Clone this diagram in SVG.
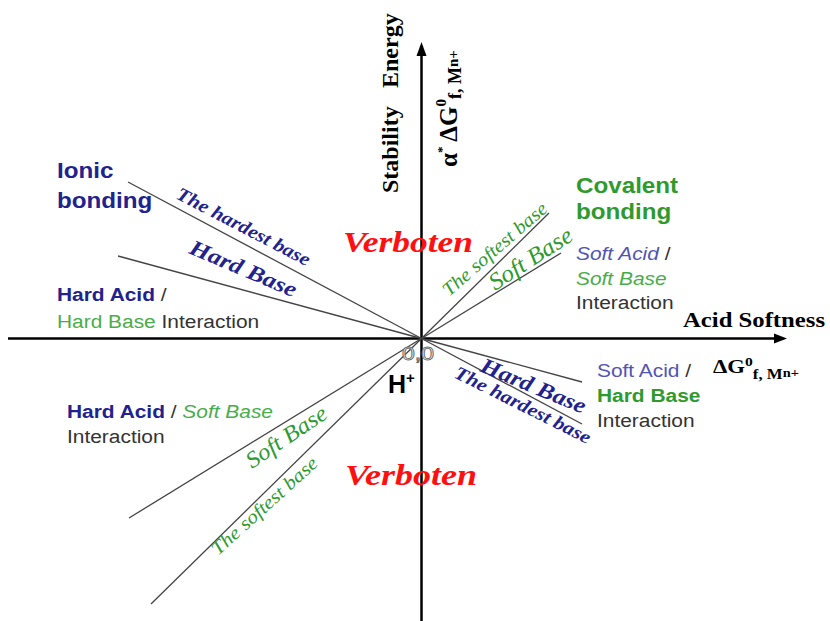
<svg xmlns="http://www.w3.org/2000/svg" width="830" height="621" viewBox="0 0 830 621">
<defs>
<style>
.sans{font-family:"Liberation Sans",Arial,sans-serif;}
.serif{font-family:"Liberation Serif","Times New Roman",serif;}
.navy{fill:#22228e;}
.slate{fill:#5353b6;}
.lgreen{fill:#48ad48;}
.dgreen{fill:#2e9a2e;}
.gray{fill:#333333;}
.red{fill:#ff1010;}
.bl{fill:#000;}
.ray{stroke:#444;stroke-width:1.3;fill:none;}
.axis{stroke:#000;stroke-width:2.5;fill:none;}
.head{fill:#000;stroke:none;}
.lab{font-size:19px;}
.bi{font-weight:bold;font-style:italic;}
.it{font-style:italic;}
.b{font-weight:bold;}
</style>
</defs>
<rect width="830" height="621" fill="#fff"/>

<g id="connectors">
<line class="axis" x1="8" y1="338.5" x2="776" y2="338.5"/>
<polygon class="head" points="787,338.5 774,333.5 774,343.5"/>
<line class="axis" x1="421.5" y1="621" x2="421.5" y2="54"/>
<polygon class="head" points="421.5,42 416.5,56 426.5,56"/>
<line class="ray" x1="128" y1="182" x2="421.5" y2="338.5"/>
<line class="ray" x1="118" y1="256" x2="421.5" y2="338.5"/>
<line class="ray" x1="549" y1="213" x2="421.5" y2="338.5"/>
<line class="ray" x1="561" y1="253" x2="421.5" y2="338.5"/>
<line class="ray" x1="582" y1="382" x2="421.5" y2="338.5"/>
<line class="ray" x1="582" y1="424" x2="421.5" y2="338.5"/>
<line class="ray" x1="129" y1="518" x2="421.5" y2="338.5"/>
<line class="ray" x1="151" y1="604" x2="421.5" y2="338.5"/>
</g>

<g id="y-axis-title">
<text class="serif b bl" font-size="24" transform="translate(398,193) rotate(-90)"><tspan x="0" y="0">Stability</tspan><tspan x="105" y="0">Energy</tspan></text>
</g>
<g id="y-axis-formula">
<text class="serif b bl" font-size="25" transform="translate(457,167) rotate(-90)">α<tspan font-size="13" dy="-11">*</tspan><tspan dy="11"> ΔG</tspan><tspan font-size="15" dy="-11">0</tspan><tspan font-size="18" dy="15">f, M</tspan><tspan font-size="15" dy="-3">n+</tspan></text>
</g>
<g id="x-axis-title">
<text class="serif b bl" font-size="20" x="683" y="327" textLength="142" lengthAdjust="spacingAndGlyphs">Acid Softness</text>
</g>
<g id="x-axis-formula">
<text class="serif b bl" font-size="19" transform="translate(713,373) scale(1.2,1)">ΔG<tspan font-size="13" dy="-7">0</tspan><tspan font-size="14" dy="13">f, M</tspan><tspan font-size="12" dy="-2">n+</tspan></text>
</g>

<g id="origin">
<text class="sans" font-size="18" x="402" y="360" fill="#f4f4f4" stroke="#666" stroke-width="0.8" textLength="32" lengthAdjust="spacingAndGlyphs">0,0</text>
</g>
<g id="h-plus">
<text class="sans b bl" font-size="25" x="388" y="393">H<tspan font-size="15" dy="-10">+</tspan></text>
</g>

<g id="verboten-top">
<text class="serif bi red" font-size="30" x="343" y="252" textLength="130" lengthAdjust="spacingAndGlyphs">Verboten</text>
</g>
<g id="verboten-bottom">
<text class="serif bi red" font-size="30" x="345" y="485" textLength="132" lengthAdjust="spacingAndGlyphs">Verboten</text>
</g>

<g id="ionic-bonding">
<text class="sans b navy" font-size="22" transform="translate(57,178) scale(1.1,1)"><tspan x="0" y="0">Ionic</tspan><tspan x="0" y="30">bonding</tspan></text>
</g>
<g id="covalent-bonding">
<text class="sans b dgreen" font-size="22" transform="translate(576,193) scale(1.1,1)"><tspan x="0" y="0">Covalent</tspan><tspan x="0" y="26">bonding</tspan></text>
</g>

<g id="hard-hard">
<text class="sans lab" transform="translate(57,301) scale(1.1,1)"><tspan x="0" y="0" class="b navy">Hard Acid</tspan><tspan class="gray"> /</tspan><tspan x="0" y="27" class="lgreen">Hard Base</tspan><tspan class="gray"> Interaction</tspan></text>
</g>
<g id="soft-soft">
<text class="sans lab" transform="translate(576,260) scale(1.1,1)"><tspan x="0" y="0" class="it slate">Soft Acid</tspan><tspan class="gray"> /</tspan><tspan x="0" y="25" class="it lgreen">Soft Base</tspan><tspan x="0" y="49" class="gray">Interaction</tspan></text>
</g>
<g id="soft-hard">
<text class="sans lab" transform="translate(597,377) scale(1.1,1)"><tspan x="0" y="0" class="slate">Soft Acid</tspan><tspan class="gray"> /</tspan><tspan x="0" y="25" class="b dgreen">Hard Base</tspan><tspan x="0" y="50" class="gray">Interaction</tspan></text>
</g>
<g id="hard-soft">
<text class="sans lab" transform="translate(67,418) scale(1.1,1)"><tspan x="0" y="0" class="b navy">Hard Acid</tspan><tspan class="gray"> / </tspan><tspan class="it lgreen">Soft Base</tspan><tspan x="0" y="25" class="gray">Interaction</tspan></text>
</g>

<g id="ul-hardest">
<text class="serif bi navy" font-size="19" transform="translate(175,198) rotate(27.5)" textLength="148" lengthAdjust="spacingAndGlyphs">The hardest base</text>
</g>
<g id="ul-hard">
<text class="serif bi navy" font-size="22" transform="translate(188,253) rotate(23)" textLength="114" lengthAdjust="spacingAndGlyphs">Hard Base</text>
</g>
<g id="ur-softest">
<text class="serif it dgreen" font-size="19" transform="translate(449,297) rotate(-41)" textLength="132" lengthAdjust="spacingAndGlyphs">The softest base</text>
</g>
<g id="ur-soft">
<text class="serif it dgreen" font-size="24" transform="translate(495,291) rotate(-33)" textLength="95" lengthAdjust="spacingAndGlyphs">Soft Base</text>
</g>
<g id="lr-hard">
<text class="serif bi navy" font-size="22" transform="translate(479,371) rotate(22.5)" textLength="112" lengthAdjust="spacingAndGlyphs">Hard Base</text>
</g>
<g id="lr-hardest">
<text class="serif bi navy" font-size="19" transform="translate(453,377) rotate(26.6)" textLength="150" lengthAdjust="spacingAndGlyphs">The hardest base</text>
</g>
<g id="ll-soft">
<text class="serif it dgreen" font-size="23" transform="translate(252,469) rotate(-34)" textLength="93" lengthAdjust="spacingAndGlyphs">Soft Base</text>
</g>
<g id="ll-softest">
<text class="serif it dgreen" font-size="19" transform="translate(218,556) rotate(-42)" textLength="136" lengthAdjust="spacingAndGlyphs">The softest base</text>
</g>
</svg>
